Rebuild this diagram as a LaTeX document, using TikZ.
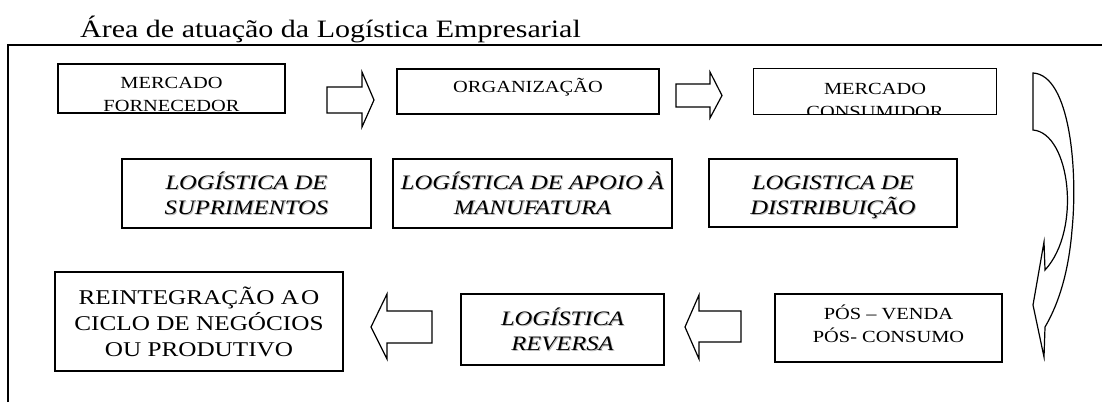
\documentclass[tikz,border=0pt]{standalone}
\usepackage{fontspec}
\setmainfont{Liberation Serif}[FakeStretch=1.2]
\usepackage{tikz}
\usetikzlibrary{positioning}

\tikzset{
	caixa/.style={draw, line width=1.3pt, inner sep=0pt},
	rot/.style={align=center, inner sep=0pt, font=\fontsize{17}{23}\selectfont},
	rotit/.style={align=center, inner sep=0pt, font=\fontsize{20.5}{25}\selectfont\itshape},
	rotg/.style={align=center, inner sep=0pt, font=\fontsize{21}{26}\selectfont},
	seta/.style={draw, line width=1.2pt, line join=miter},
}
% texto com sombra cinza
\newcommand{\sombra}[1]{\rlap{\kern1pt\raisebox{-1pt}{\textcolor{black!28}{#1}}}#1}

\begin{document}
\begin{tikzpicture}[x=1pt, y=-1pt]
			\useasboundingbox (0,0) rectangle (1102,402);
			\node[anchor=base west, inner sep=0pt, font=\fontsize{25}{30}\selectfont] (titulo) at (80,37) {Área de atuação da Logística Empresarial};
			\draw[line width=1.3pt] (8,402) -- (8,45) -- (1102,45);
			% primeira linha
			\node[caixa, minimum width=227pt, minimum height=49pt] (fornec) at (171.5,88.5) {};
			\node[rot] (tfornec) at (171.5,94) {MERCADO\\FORNECEDOR};
			\node[caixa, minimum width=262pt, minimum height=45pt] (org) at (528,91.5) {};
			\node[rot, anchor=base] (torg) at (528,92) {ORGANIZAÇÃO};
			\node[minimum width=242pt, minimum height=45pt, inner sep=0pt] (cons) at (875,91.5) {};
			\begin{scope}
				\clip (cons.south west) rectangle (cons.north east);
				\node[rot] (tcons) at (875,100) {MERCADO\\CONSUMIDOR};
			\end{scope}
			\draw[line width=1.3pt] (cons.south west) rectangle (cons.north east);
			\draw[seta] (327,87) -- (362,87) -- (362,72) -- (374,100) -- (362,127) -- (362,113) -- (327,113) -- cycle;
			\draw[seta] (676,84) -- (710,84) -- (710,72) -- (722,95.5) -- (710,118) -- (710,107) -- (676,107) -- cycle;
			% segunda linha
			\node[caixa, minimum width=249pt, minimum height=69pt] (supr) at (246.5,193.5) {};
			\node[rotit] (tsupr) at (246.5,193.6) {\sombra{LOGÍSTICA DE}\\\sombra{SUPRIMENTOS}};
			\node[caixa, minimum width=279pt, minimum height=69pt] (apoio) at (532.5,193.5) {};
			\node[rotit] (tapoio) at (532.5,193.6) {\sombra{LOGÍSTICA DE APOIO À}\\\sombra{MANUFATURA}};
			\node[caixa, minimum width=248pt, minimum height=68pt] (distr) at (833,193) {};
			\node[rotit] (tdistr) at (833,197.8) {\sombra{LOGISTICA DE}\\\sombra{DISTRIBUIÇÃO}};
			% seta curva
			\draw[seta] (1033,73) -- (1033,130)
				.. controls (1070,133) and (1082,230) .. (1045,270)
				-- (1044,242) -- (1033,305) -- (1044,357) -- (1045,327)
				.. controls (1055,310) and (1068,280) .. (1072,230)
				.. controls (1078,170) and (1070,75) .. cycle;
			% terceira linha
			\node[caixa, minimum width=227pt, minimum height=68pt] (pos) at (888.5,328) {};
			\node[rot] (tpos) at (888.5,323.8) {PÓS – VENDA\\PÓS- CONSUMO};
			\node[caixa, minimum width=203pt, minimum height=71pt] (rev) at (562.5,329.5) {};
			\node[rotit] (trev) at (562.5,329.5) {\sombra{LOGÍSTICA}\\\sombra{REVERSA}};
			\node[caixa, minimum width=288pt, minimum height=99pt] (reint) at (199,321.5) {};
			\node[rotg] (treint) at (199,321.5) {REINTEGRAÇÃO A\kern2pt O\\CICLO DE NEGÓCIOS\\OU PRODUTIVO};
			\draw[seta] (741,311) -- (699,311) -- (699,295) -- (685,327) -- (699,359) -- (699,342) -- (741,342) -- cycle;
			\draw[seta] (432,311) -- (387,311) -- (387,294) -- (371,327) -- (387,359) -- (387,343) -- (432,343) -- cycle;
		\end{tikzpicture}
\end{document}
